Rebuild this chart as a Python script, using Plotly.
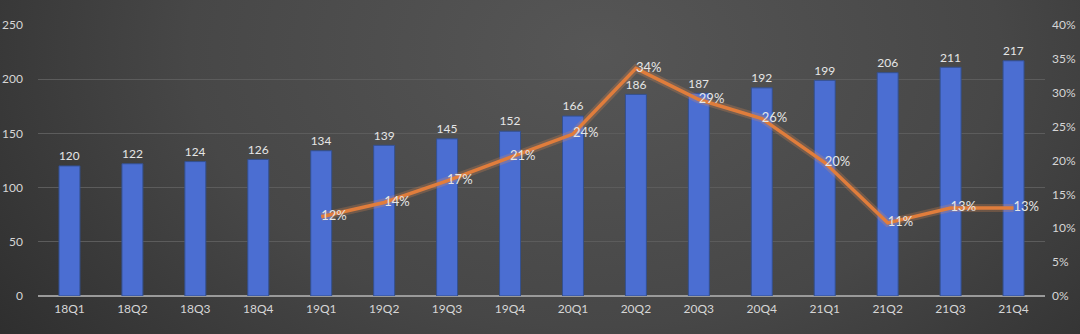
import plotly.graph_objects as go
import base64

quarters = ["18Q1","18Q2","18Q3","18Q4","19Q1","19Q2","19Q3","19Q4",
            "20Q1","20Q2","20Q3","20Q4","21Q1","21Q2","21Q3","21Q4"]
revenue = [120,122,124,126,134,139,145,152,166,186,187,192,199,206,211,217]
growth_quarters = quarters[4:]
growth = [0.117,0.138,0.170,0.205,0.239,0.336,0.290,0.262,0.197,0.108,0.130,0.130]
growth_labels = ["12%","14%","17%","21%","24%","34%","29%","26%","20%","11%","13%","13%"]

svg = """<svg xmlns='http://www.w3.org/2000/svg' width='1080' height='334' preserveAspectRatio='none'>
<defs><radialGradient id='g' cx='0.55' cy='0.15' r='0.75' gradientTransform='translate(0.55 0.15) scale(1 2.2) translate(-0.55 -0.15)'>
<stop offset='0' stop-color='#565656'/><stop offset='0.5' stop-color='#474747'/><stop offset='1' stop-color='#282828'/></radialGradient></defs>
<rect width='1080' height='334' fill='url(#g)'/></svg>"""
bg = "data:image/svg+xml;base64," + base64.b64encode(svg.encode()).decode()

fig = go.Figure()
fig.add_trace(go.Bar(
    x=quarters, y=revenue, text=[str(v) for v in revenue],
    textposition="outside", cliponaxis=False,
    textfont=dict(color="#e6e6e6", size=13, family="Lato"),
    marker=dict(color="#4b6ed2", line=dict(color="#34508f", width=1)),
    showlegend=False,
))
fig.add_trace(go.Scatter(
    x=growth_quarters, y=growth, yaxis="y2", mode="lines",
    line=dict(color="rgba(230,140,80,0.25)", width=8),
    showlegend=False, hoverinfo="skip",
))
fig.add_trace(go.Scatter(
    x=growth_quarters, y=growth, yaxis="y2", mode="lines+text",
    text=growth_labels, textposition="middle right", cliponaxis=False,
    textfont=dict(color="#e6e6e6", size=13, family="Lato"),
    line=dict(color="#e07d3c", width=3.5),
    showlegend=False,
))
fig.update_layout(
    width=1080, height=334,
    margin=dict(l=38, r=35, t=25, b=38),
    paper_bgcolor="#404040", plot_bgcolor="rgba(0,0,0,0)",
    bargap=0.667,
    font=dict(family="Lato", color="#d6d6d6", size=12),
    images=[dict(source=bg, xref="paper", yref="paper", x=-38/1007, y=1+25/271,
                 sizex=1080/1007, sizey=334/271, sizing="stretch", layer="below",
                 xanchor="left", yanchor="top")],
    xaxis=dict(type="category", range=[-0.5, 15.5], showgrid=False, showline=False, zeroline=False,
               automargin=False,
               tickfont=dict(size=12, color="#d6d6d6"), ticks="", ticklabelstandoff=4),
    yaxis=dict(range=[0,250], dtick=50, gridcolor="#5c5c5c", gridwidth=1,
               zeroline=True, zerolinecolor="#9a9a9a", zerolinewidth=2, automargin=False,
               tickfont=dict(size=12, color="#d6d6d6"), ticklabelstandoff=14),
    yaxis2=dict(range=[0,0.4], dtick=0.05, tickformat=".0%", overlaying="y", side="right",
                showgrid=False, zeroline=False, automargin=False,
                tickfont=dict(size=12, color="#d6d6d6"), ticklabelstandoff=6),
)
fig.write_html("out.html")
